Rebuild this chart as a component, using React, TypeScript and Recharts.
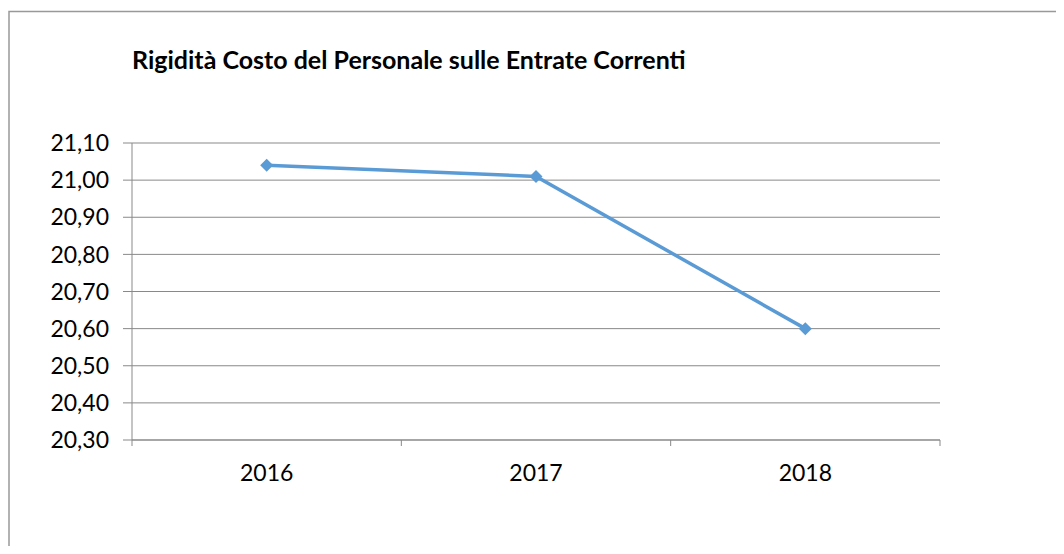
import { CartesianGrid, Line, LineChart, XAxis, YAxis } from "recharts";

const years = ["2016", "2017", "2018"];
const rigidita = [21.04, 21.01, 20.6];
const yTicks = [20.3, 20.4, 20.5, 20.6, 20.7, 20.8, 20.9, 21.0, 21.1];

const data = years.map((year, i) => ({ year, value: rigidita[i] }));

const FONT = "Lato, 'Open Sans', sans-serif";
const GRID = "#898989";
const BORDER = "#999999";
const BLUE = "#5B9BD5";

const formatIt = (v: number) => v.toFixed(2).replace(".", ",");

function Diamond({ cx, cy }: any) {
  const r = 6.5;
  return (
    <polygon
      points={`${cx},${cy - r} ${cx + r},${cy} ${cx},${cy + r} ${cx - r},${cy}`}
      fill={BLUE}
    />
  );
}

function YearTick({ x, y, payload, index, visibleTicksCount, width }: any) {
  // tick marks sit on the category boundaries, labels in the middle
  const band = width / visibleTicksCount;
  const left = x - band / 2;
  const right = x + band / 2;
  return (
    <g>
      <line x1={left} x2={left} y1={y - 6} y2={y} stroke={GRID} />
      {index === visibleTicksCount - 1 && (
        <line x1={right} x2={right} y1={y - 6} y2={y} stroke={GRID} />
      )}
      <text x={x} y={y + 35} textAnchor="middle" fill="#000" fontSize={23} fontFamily={FONT}>
        {payload.value}
      </text>
    </g>
  );
}

export default function App() {
  return (
    <div style={{ position: "relative", margin: -8, width: 1064, height: 554, background: "#fff", overflow: "hidden" }}>
      <div
        style={{
          position: "absolute",
          left: 132,
          top: 45,
          fontFamily: FONT,
          fontWeight: 700,
          fontSize: 25,
          lineHeight: "28px",
          color: "#000",
          whiteSpace: "nowrap",
        }}
      >
        Rigidità Costo del Personale sulle Entrate Correnti
      </div>
      <div style={{ position: "absolute", left: 0, top: 0 }}>
        <LineChart width={1064} height={554} data={data} margin={{ top: 143, right: 124, bottom: 54, left: 0 }}>
          <CartesianGrid vertical={false} stroke={GRID} />
          <XAxis
            dataKey="year"
            scale="band"
            height={60}
            axisLine={{ stroke: GRID }}
            tickLine={false}
            tickSize={6}
            tickMargin={0}
            tick={<YearTick />}
          />
          <YAxis
            width={132}
            domain={[20.3, 21.1]}
            ticks={yTicks}
            tickFormatter={formatIt}
            axisLine={{ stroke: GRID }}
            tickLine={{ stroke: GRID }}
            tickSize={9}
            tickMargin={14}
            tick={{ fill: "#000", fontSize: 23, fontFamily: FONT }}
          />
          <Line
            type="linear"
            dataKey="value"
            stroke={BLUE}
            strokeWidth={3.5}
            dot={<Diamond />}
            activeDot={false}
            isAnimationActive={false}
          />
        </LineChart>
      </div>
      <svg width={1064} height={554} style={{ position: "absolute", left: 0, top: 0, pointerEvents: "none" }}>
        <path d="M9,554 L9,11.5 L1064,11.5" fill="none" stroke={BORDER} strokeWidth={1.5} />
      </svg>
    </div>
  );
}
